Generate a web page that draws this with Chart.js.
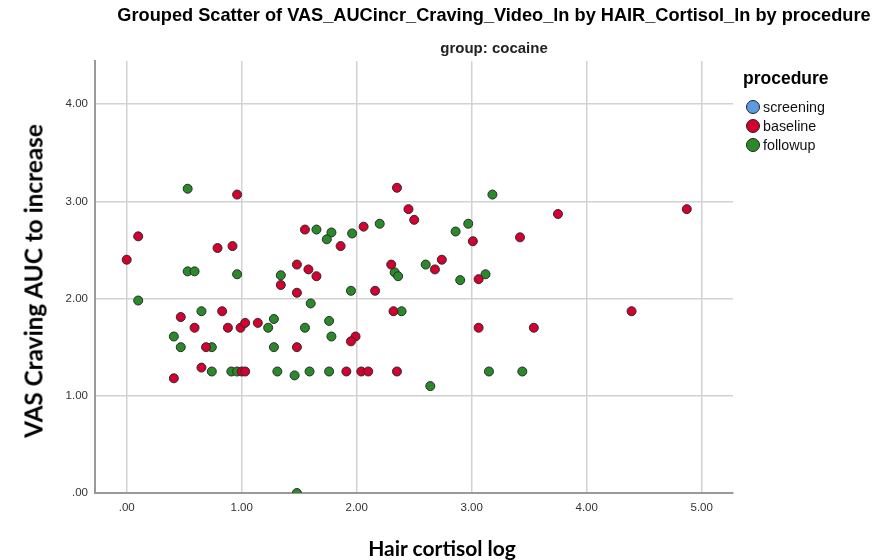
<!DOCTYPE html>
<html>
<head>
<meta charset="utf-8">
<title>Grouped Scatter</title>
<script src="https://cdn.jsdelivr.net/npm/chart.js@4/dist/chart.umd.min.js"></script>
<style>
  html, body { margin: 0; padding: 0; background: #fff; }
  #wrap { position: relative; width: 879px; height: 560px; overflow: hidden; }
  #plot { position: absolute; left: 0; top: 0; }
  .txt { position: absolute; white-space: nowrap; color: #000; }
  #mainTitle { left: 494px; top: 5px; transform: translateX(-50%); font: bold 18.2px "Liberation Sans", Arial, sans-serif; }
  #subTitle { left: 494px; top: 39px; transform: translateX(-50%); font: bold 15px "Liberation Sans", Arial, sans-serif; color: #222; }
  #yTitle { left: 33px; top: 281px; transform: translate(-50%, -50%) rotate(-90deg); font: bold 24.3px Lato, "Open Sans", sans-serif; }
  #xTitle { left: 442px; top: 547px; transform: translate(-50%, -50%); font: bold 21px Lato, "Open Sans", sans-serif; }
  #legend { position: absolute; left: 743px; top: 68px; font-family: "Liberation Sans", Arial, sans-serif; }
  #legend .head { font-weight: bold; font-size: 17.5px; margin-bottom: 8px; }
  #legend .item { display: flex; align-items: center; height: 19px; font-size: 14.3px; color: #111; }
  #legend .dot { width: 12px; height: 12px; border-radius: 50%; border: 1px solid #222; margin: 0 3px 0 3px; }
</style>
</head>
<body>
<div id="wrap">
  <canvas id="plot" width="879" height="560"></canvas>
  <div class="txt" id="mainTitle">Grouped Scatter of VAS_AUCincr_Craving_Video_ln by HAIR_Cortisol_ln by procedure</div>
  <div class="txt" id="subTitle">group: cocaine</div>
  <div class="txt" id="yTitle">VAS Craving AUC to increase</div>
  <div class="txt" id="xTitle">Hair cortisol log</div>
  <div id="legend"></div>
</div>
<script>
// procedure groups and their colours
const groupNames = ['screening', 'baseline', 'followup'];
const groupColors = ['#5b9be0', '#d4002f', '#2a8a2a'];

// hair cortisol (log) / VAS craving AUC increase, per procedure
const screeningX = [];
const screeningY = [];

const baselineX = [0.96, 0.10, 1.55, 0.79, 0.92, 0.00, 1.48, 1.58, 2.35, 2.45, 2.50, 1.86,
  2.06, 3.01, 3.42, 2.30, 2.68, 2.74, 3.06, 1.65, 1.34, 1.48, 0.47, 0.83, 0.59, 0.88,
  0.99, 1.03, 1.14, 0.69, 1.48, 0.65, 1.00, 1.03, 0.41, 2.16, 2.32, 1.99, 1.95, 3.06,
  1.91, 2.04, 2.10, 2.35, 3.75, 4.87, 4.39, 3.54];
const baselineY = [3.07, 2.64, 2.71, 2.52, 2.54, 2.40, 2.35, 2.30, 3.14, 2.92, 2.81, 2.54,
  2.74, 2.59, 2.63, 2.35, 2.30, 2.40, 2.20, 2.23, 2.14, 2.06, 1.81, 1.87, 1.70, 1.70,
  1.70, 1.75, 1.75, 1.50, 1.50, 1.29, 1.25, 1.25, 1.18, 2.08, 1.87, 1.61, 1.56, 1.70,
  1.25, 1.25, 1.25, 1.25, 2.87, 2.92, 1.87, 1.70];

const followupX = [0.53, 0.53, 0.59, 0.96, 1.34, 3.18, 1.65, 1.78, 1.74, 1.96, 2.20, 2.86,
  2.97, 2.33, 2.36, 2.60, 2.90, 3.12, 0.10, 1.60, 0.65, 1.28, 1.23, 1.55, 0.41, 0.47,
  0.74, 1.28, 0.74, 0.91, 0.96, 1.31, 1.46, 1.59, 1.48, 1.95, 2.39, 1.76, 1.78, 1.76,
  2.64, 3.15, 3.44];
const followupY = [3.13, 2.28, 2.28, 2.25, 2.24, 3.07, 2.71, 2.68, 2.61, 2.67, 2.77, 2.69,
  2.77, 2.27, 2.23, 2.35, 2.19, 2.25, 1.98, 1.95, 1.87, 1.79, 1.70, 1.70, 1.61, 1.50,
  1.50, 1.50, 1.25, 1.25, 1.25, 1.25, 1.21, 1.25, 0.00, 2.08, 1.87, 1.77, 1.61, 1.25,
  1.10, 1.25, 1.25];

const xTicks = [0, 1, 2, 3, 4, 5];
const yTicks = [0, 1, 2, 3, 4];

function toPoints(xs, ys) {
  return xs.map((x, i) => ({ x: x, y: ys[i] }));
}

const seriesX = [screeningX, baselineX, followupX];
const seriesY = [screeningY, baselineY, followupY];

const datasets = groupNames.map((name, i) => ({
  label: name,
  data: toPoints(seriesX[i], seriesY[i]),
  backgroundColor: groupColors[i],
  borderColor: '#2b2b2b',
  borderWidth: 1,
  pointRadius: 4.5,
  pointHoverRadius: 4.5
}));

// SPSS style labels: .00, 1.00, 2.00 ...
function fmt(v) {
  return v === 0 ? '.00' : v.toFixed(2);
}

const tickFont = { family: '"Liberation Sans", Arial, sans-serif', size: 11.5 };

new Chart(document.getElementById('plot').getContext('2d'), {
  type: 'scatter',
  data: { datasets: datasets },
  options: {
    responsive: false,
    animation: false,
    layout: { padding: { left: 65, right: 146, top: 61, bottom: 37 } },
    plugins: {
      legend: { display: false },
      tooltip: { enabled: false }
    },
    scales: {
      x: {
        type: 'linear',
        min: -0.2757,
        max: 5.272,
        afterBuildTicks: function(s) { s.ticks = xTicks.map(v => ({ value: v })); },
        afterFit: function(s) { s.height = 30; },
        ticks: { callback: fmt, color: '#333', font: tickFont, padding: 8, maxRotation: 0 },
        grid: { color: '#d2d2d2', lineWidth: 1.5, drawTicks: false },
        border: { color: '#9a9a9a', width: 2 }
      },
      y: {
        type: 'linear',
        min: 0,
        max: 4.444,
        afterBuildTicks: function(s) { s.ticks = yTicks.map(v => ({ value: v })); },
        afterFit: function(s) { s.width = 30; },
        ticks: { callback: fmt, color: '#333', font: tickFont, padding: 7 },
        grid: { color: '#d2d2d2', lineWidth: 1.5, drawTicks: false },
        border: { color: '#9a9a9a', width: 2 }
      }
    }
  }
});

// legend block on the right
const legend = document.getElementById('legend');
legend.innerHTML = '<div class="head">procedure</div>' + groupNames.map((name, i) =>
  '<div class="item"><span class="dot" style="background:' + groupColors[i] + '"></span>' + name + '</div>'
).join('');
</script>
</body>
</html>
